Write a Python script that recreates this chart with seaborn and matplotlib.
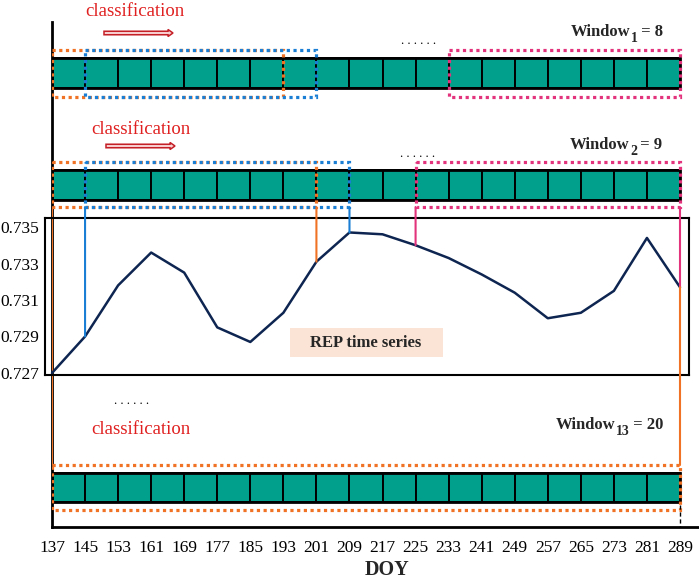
import matplotlib
matplotlib.use("Agg")
import matplotlib.pyplot as plt
import matplotlib.patches as mpatches
import seaborn as sns
import pandas as pd

# REP time series
doy = [137, 145, 153, 161, 169, 177, 185, 193, 201, 209,
       217, 225, 233, 241, 249, 257, 265, 273, 281, 289]
rep = [0.7270, 0.7290, 0.7318, 0.7336, 0.7325, 0.7295, 0.7287, 0.7303, 0.7331, 0.7347,
       0.7346, 0.7340, 0.7333, 0.7324, 0.7314, 0.7300, 0.7303, 0.7315, 0.7344, 0.7317]
rep_ticks = [0.727, 0.729, 0.731, 0.733, 0.735]

# sliding windows: (start doy, end doy, colour key)
window1 = [(137, 193, "orange"), (145, 201, "blue"), (233, 289, "pink")]
window2 = [(137, 201, "orange"), (145, 209, "blue"), (225, 289, "pink")]
window13 = [(137, 289, "orange")]
window_ids = ["1", "2", "13"]
window_sizes = [8, 9, 20]

colors = {"orange": "#f07224", "blue": "#1a7fd4", "pink": "#e2337c"}
teal = "#00a08c"
red = "#e02020"

sns.set_theme(style="white")
plt.rcParams["font.family"] = ["Liberation Serif", "DejaVu Serif"]

W, H = 699, 580
k = (680 - 52) / 152.0  # pixels per day


def px2doy(px):
    return 137 + (px - 52) / k


fig = plt.figure(figsize=(W / 100, H / 100), dpi=100)

# main frame: x in DOY, y in rows from the top
ax = fig.add_axes([52 / W, 53 / H, 647 / W, 505 / H])
ax.set_xlim(137, px2doy(699))
ax.set_ylim(527, 22)
ax.set_facecolor("none")
for s in ["top", "right"]:
    ax.spines[s].set_visible(False)
for s in ["left", "bottom"]:
    ax.spines[s].set_color("black")
    ax.spines[s].set_linewidth(2)
ax.set_yticks([])
ax.set_xticks(doy)
ax.set_xticklabels([str(d) for d in doy], fontsize=12.5)
ax.tick_params(axis="x", length=0, pad=9, colors="black")


def draw_strip(top, bottom):
    for d0, d1 in zip(doy[:-1], doy[1:]):
        ax.add_patch(mpatches.Rectangle((d0, top), d1 - d0, bottom - top,
                                        facecolor=teal, edgecolor="black", lw=1.4, zorder=2))
    ax.add_patch(mpatches.Rectangle((doy[0], top), doy[-1] - doy[0], bottom - top,
                                    fill=False, edgecolor="black", lw=2, zorder=3))


def draw_windows(boxes, top, bottom):
    for d0, d1, c in boxes:
        ax.add_patch(mpatches.Rectangle((d0, top), d1 - d0, bottom - top, fill=False,
                                        edgecolor=colors[c], lw=2.3, linestyle=(0, (1, 1.1)),
                                        zorder=4))


strips = [(58, 88, 50, 97), (170, 200, 162, 207), (473, 502, 465, 510)]
for (t, b, bt, bb), boxes in zip(strips, [window1, window2, window13]):
    draw_strip(t, b)
    draw_windows(boxes, bt, bb)

# texts
for x, row in [(135, 11), (141, 129), (141, 430)]:
    ax.text(px2doy(x), row, "classification", color=red, fontsize=13.5,
            ha="center", va="center")
for x0, x1, row in [(104, 173, 33), (106, 175, 146)]:
    ax.add_patch(mpatches.FancyArrow(px2doy(x0), row, px2doy(x1) - px2doy(x0) - 5 / k, 0,
                                     width=3.5, head_width=7, head_length=5 / k,
                                     length_includes_head=False, facecolor="#f8d0d0",
                                     edgecolor="#c41e26", lw=1.1, zorder=5))
for x, row in [(419, 44), (418, 157), (132, 404)]:
    ax.text(px2doy(x), row, ". . . . . .", fontsize=9, ha="center", va="baseline", color="black")

# window labels: "Window" + subscript + " = n"
for wid, size, x, row in zip(window_ids, window_sizes, [571, 570, 556], [32, 145, 425]):
    t1 = ax.text(px2doy(x), row, "Window", fontsize=12, fontweight="bold",
                 ha="left", va="center")
    t2 = ax.annotate(wid, xy=(1, 0), xycoords=t1, xytext=(0.3, -3.5),
                     textcoords="offset points", fontsize=10, fontweight="bold",
                     ha="left", va="bottom")
    ax.annotate(f" = {size}", xy=(1, 0), xycoords=(t2, t1), xytext=(-0.5, 0),
                textcoords="offset points", fontsize=12, fontweight="bold",
                ha="left", va="bottom")

# REP inset
v = 0.008 / 146
ins = fig.add_axes([45 / W, (580 - 375) / H, 644 / W, 157 / H])
ins.set_facecolor("none")
df = pd.DataFrame({"DOY": doy, "REP": rep})
sns.lineplot(data=df, x="DOY", y="REP", ax=ins, color="#0d2550", lw=1.8)
ins.set_xlim(px2doy(45), px2doy(689))
ins.set_ylim(0.727 - 2 * v, 0.735 + 9 * v)
ins.set_xticks([])
ins.set_yticks(rep_ticks)
ins.set_yticklabels([f"{t:.3f}" for t in rep_ticks], fontsize=12.5)
ins.tick_params(axis="y", length=0, pad=4, colors="black")
ins.set_xlabel("")
ins.set_ylabel("")
for s in ins.spines.values():
    s.set_visible(True)
    s.set_color("black")
    s.set_linewidth(1.5)
ins.add_patch(mpatches.Rectangle((px2doy(290), 0.735 + 9 * v - (328 - 218) * v),
                                 (443 - 290) / k, -29 * v, facecolor="#fbe4d5",
                                 edgecolor="none", zorder=0))
ins.text(px2doy(366), 0.735 + 9 * v - (343 - 218) * v, "REP time series",
         fontsize=12, fontweight="bold", ha="center", va="center")

# connectors from window edges to the series
rep_at = dict(zip(doy, rep))
for d, c in [(145, "blue"), (201, "orange"), (209, "blue"), (225, "pink"), (289, "pink")]:
    fig.add_artist(mpatches.ConnectionPatch(xyA=(d, 207), coordsA=ax.transData,
                                            xyB=(d, rep_at[d]), coordsB=ins.transData,
                                            color=colors[c], lw=1.5, zorder=6))
fig.add_artist(mpatches.ConnectionPatch(xyA=(289, rep_at[289]), coordsA=ins.transData,
                                        xyB=(289, 465), coordsB=ax.transData,
                                        color=colors["orange"], lw=1.5, zorder=6))
ax.plot([137, 137], [207, 465], color=colors["orange"], lw=1.5, zorder=6)
ax.plot([289, 289], [505, 527], color="black", lw=1, ls=(0, (3, 2)), zorder=6)

fig.text(387 / W, 1 - 570 / H, "DOY", fontsize=14.5, fontweight="bold",
         ha="center", va="center")

fig.savefig("out.png", dpi=100)
